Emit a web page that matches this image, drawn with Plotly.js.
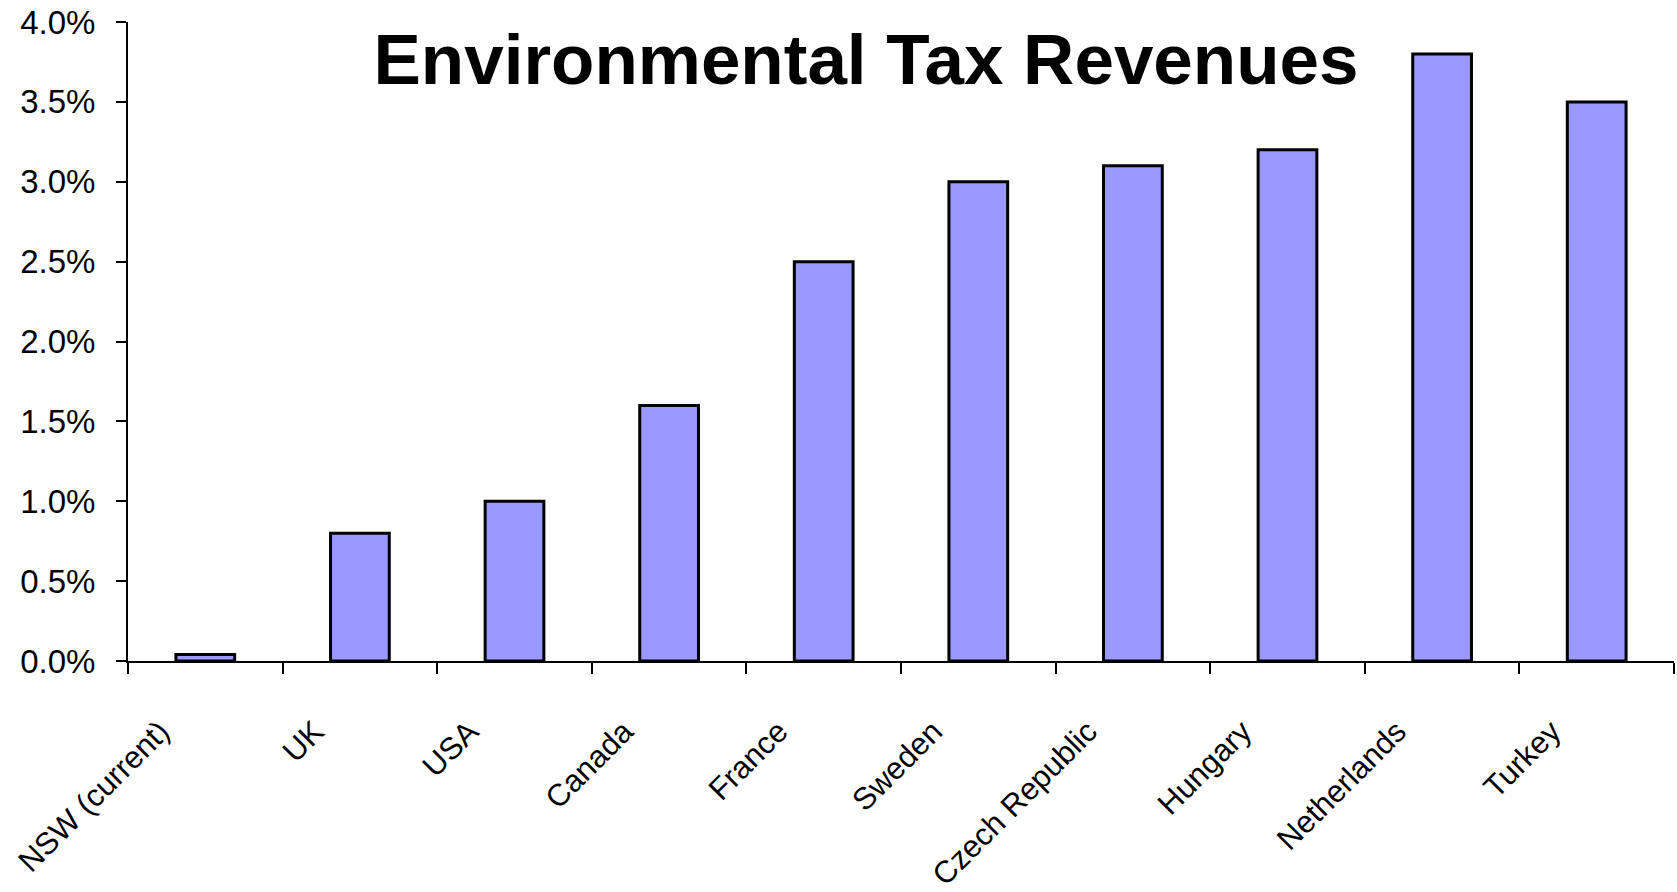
<!DOCTYPE html>
<html>
<head>
<meta charset="utf-8">
<script src="https://cdn.plot.ly/plotly-3.0.1.min.js"></script>
<style>
html,body{margin:0;padding:0;background:#fff;}
#chart{width:1677px;height:892px;}
</style>
</head>
<body>
<div id="chart"></div>
<script>
const categories = ["NSW (current)", "UK", "USA", "Canada", "France", "Sweden", "Czech Republic", "Hungary", "Netherlands", "Turkey"];
const revenuePct = [0.04, 0.8, 1.0, 1.6, 2.5, 3.0, 3.1, 3.2, 3.8, 3.5];
const yTicks = [0, 0.5, 1.0, 1.5, 2.0, 2.5, 3.0, 3.5, 4.0];
const yTickLabels = ["0.0%", "0.5%", "1.0%", "1.5%", "2.0%", "2.5%", "3.0%", "3.5%", "4.0%"];
const titleText = "Environmental Tax Revenues";

const trace = {
  type: "bar",
  x: categories,
  y: revenuePct,
  marker: {color: "#9999FF", line: {color: "#000000", width: 3}},
  hoverinfo: "x+y"
};

const layout = {
  width: 1677,
  height: 892,
  paper_bgcolor: "#ffffff",
  plot_bgcolor: "#ffffff",
  margin: {l: 128, r: 3, t: 22, b: 231},
  bargap: 0.62,
  showlegend: false,
  font: {family: "Liberation Sans, Arial, sans-serif", color: "#000000"},
  title: {
    text: "<b>" + titleText + "</b>",
    font: {family: "Liberation Sans, Arial, sans-serif", size: 71, color: "#000000"},
    x: 866 / 1677,
    xanchor: "center",
    xref: "container",
    y: 1 - 34 / 892,
    yanchor: "top",
    yref: "container"
  },
  xaxis: {
    type: "category",
    showgrid: false,
    zeroline: false,
    showline: true,
    linecolor: "#000000",
    linewidth: 2,
    ticks: "outside",
    tickson: "boundaries",
    ticklen: 11,
    tickwidth: 2,
    tickcolor: "#000000",
    tickangle: -45,
    ticklabelstandoff: 38,
    ticklabelshift: -45,
    tickfont: {family: "Liberation Sans, Arial, sans-serif", size: 31, color: "#000000"}
  },
  yaxis: {
    range: [0, 4],
    tickmode: "array",
    tickvals: yTicks,
    ticktext: yTickLabels,
    showgrid: false,
    zeroline: false,
    showline: true,
    linecolor: "#000000",
    linewidth: 2,
    ticks: "outside",
    ticklen: 10,
    tickwidth: 2,
    tickcolor: "#000000",
    ticklabelstandoff: 14,
    tickfont: {family: "Liberation Sans, Arial, sans-serif", size: 33, color: "#000000"}
  }
};

Plotly.newPlot("chart", [trace], layout, {displayModeBar: false, staticPlot: true});
</script>
</body>
</html>
